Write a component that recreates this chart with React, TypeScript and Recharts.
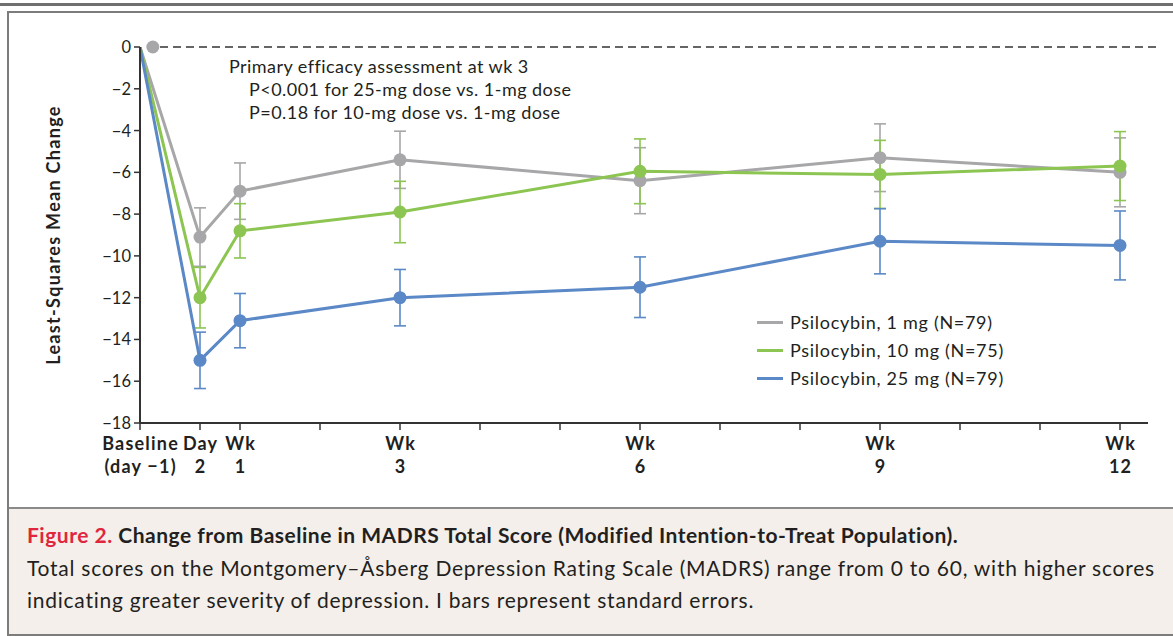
import React from "react";
import {
  ComposedChart,
  Line,
  XAxis,
  YAxis,
  ErrorBar,
  ReferenceLine,
  ReferenceDot,
} from "recharts";

// ---- data ----
const timepointPositions = [-0.25, 0.5, 1, 3, 6, 9, 12];
const timepointLines: string[][] = [
  ["Baseline", "(day \u22121)"],
  ["Day", "2"],
  ["Wk", "1"],
  ["Wk", "3"],
  ["Wk", "6"],
  ["Wk", "9"],
  ["Wk", "12"],
];
const weekTicks = [-0.25, 0.5, 1, 2, 3, 4, 5, 6, 7, 8, 9, 10, 11, 12];
const yTicks = [0, -2, -4, -6, -8, -10, -12, -14, -16, -18];

const mean1mg = [0, -9.1, -6.9, -5.4, -6.4, -5.3, -6.0];
const se1mg = [null, 1.4, 1.35, 1.37, 1.58, 1.62, 1.65];
const mean10mg = [0, -12.0, -8.8, -7.9, -5.95, -6.1, -5.7];
const se10mg = [null, 1.45, 1.3, 1.47, 1.55, 1.63, 1.65];
const mean25mg = [0, -15.0, -13.1, -12.0, -11.5, -9.3, -9.5];
const se25mg = [null, 1.35, 1.3, 1.35, 1.45, 1.56, 1.65];

const seriesNames = [
  "Psilocybin, 1 mg (N=79)",
  "Psilocybin, 10 mg (N=75)",
  "Psilocybin, 25 mg (N=79)",
];
const seriesColors = ["#a7a7a9", "#8cc551", "#5b88c6"];

const annotationLines = [
  "Primary efficacy assessment at wk 3",
  "P<0.001 for 25-mg dose vs. 1-mg dose",
  "P=0.18 for 10-mg dose vs. 1-mg dose",
];

const buildSeries = (means: number[], ses: (number | null)[]) =>
  timepointPositions.map((x, i) => ({ x, y: means[i], err: ses[i] }));

const series = [
  buildSeries(mean1mg, se1mg),
  buildSeries(mean10mg, se10mg),
  buildSeries(mean25mg, se25mg),
];

const FONT = "Lato, 'Open Sans', sans-serif";
const TEXT = "#231f20";

const XTick = (props: any) => {
  const { x, y, payload } = props;
  const idx = timepointPositions.indexOf(payload.value);
  if (idx < 0) return <g />;
  const lines = timepointLines[idx];
  const st = { letterSpacing: "1.2px" };
  return (
    <g>
      <text x={x + 0.6} y={y + 18} textAnchor="middle" fontFamily={FONT} fontWeight={700} fontSize={18} fill={TEXT} style={st}>
        {lines[0]}
      </text>
      <text x={x + 0.6} y={y + 41} textAnchor="middle" fontFamily={FONT} fontWeight={700} fontSize={18} fill={TEXT} style={st}>
        {lines[1]}
      </text>
    </g>
  );
};

const YTick = (props: any) => {
  const { x, y, payload } = props;
  const label = String(payload.value).replace("-", "\u2212");
  return (
    <text x={x} y={y + 6} textAnchor="end" fontFamily={FONT} fontSize={16.5} fill={TEXT}>
      {label}
    </text>
  );
};

const makeDot = (color: string) => (props: any) => {
  const { cx, cy, payload, index } = props;
  if (payload.x === timepointPositions[0]) return <g key={`d${index}`} />;
  return <circle key={`d${index}`} cx={cx} cy={cy} r={6.5} fill={color} stroke="none" />;
};

export default function App() {
  return (
    <div
      style={{
        position: "absolute",
        left: 0,
        top: 0,
        width: 1173,
        height: 636,
        background: "#fff",
        overflow: "hidden",
        fontFamily: FONT,
      }}
    >
      <div style={{ position: "absolute", left: 0, top: 3, width: 1173, height: 3, background: "#6f6f6f" }} />
      <div
        style={{
          position: "absolute",
          left: 7,
          top: 11,
          width: 1180,
          height: 621,
          border: "2px solid #7c7c7c",
          boxSizing: "content-box",
        }}
      />
      <div
        style={{
          position: "absolute",
          left: 9,
          top: 507,
          width: 1170,
          height: 125,
          borderTop: "2px solid #8a8a8a",
          background: "#f4efeb",
        }}
      />
      <div style={{ position: "absolute", left: 0, top: 0 }}>
        <ComposedChart
          width={1173}
          height={500}
          margin={{ top: 47, right: 25, bottom: 0, left: 80 }}
        >
          <XAxis
            type="number"
            dataKey="x"
            domain={[-0.25, 12.35]}
            ticks={weekTicks}
            allowDataOverflow
            tick={<XTick />}
            tickSize={7}
            tickMargin={2}
            axisLine={{ stroke: "#333", strokeWidth: 2 }}
            tickLine={{ stroke: "#333", strokeWidth: 1.5 }}
            height={77}
            interval={0}
          />
          <YAxis
            type="number"
            dataKey="y"
            domain={[-18, 0]}
            ticks={yTicks}
            allowDataOverflow
            width={60}
            tick={<YTick />}
            tickSize={6}
            tickMargin={3}
            axisLine={{ stroke: "#333", strokeWidth: 2 }}
            tickLine={{ stroke: "#333", strokeWidth: 1.5 }}
            interval={0}
            label={() => (
              <text
                x={60}
                y={235}
                transform="rotate(-90 60 235)"
                textAnchor="middle"
                fontFamily={FONT}
                fontWeight={700}
                fontSize={18}
                fill={TEXT}
                style={{ letterSpacing: "1.3px" }}
              >
                Least-Squares Mean Change
              </text>
            )}
          />
          <ReferenceLine
            segment={[
              { x: 0, y: 0 },
              { x: 12.5, y: 0 },
            ]}
            ifOverflow="visible"
            stroke="#333"
            strokeWidth={1.5}
            strokeDasharray="8 5"
          />
          {series.map((data, i) => (
            <Line
              key={seriesNames[i]}
              data={data}
              dataKey="y"
              name={seriesNames[i]}
              type="linear"
              stroke={seriesColors[i]}
              strokeWidth={3}
              dot={makeDot(seriesColors[i])}
              activeDot={false}
              isAnimationActive={false}
            >
              <ErrorBar dataKey="err" direction="y" width={6} stroke={seriesColors[i]} strokeWidth={1.6} />
            </Line>
          ))}
          <ReferenceDot x={-0.09} y={0} r={6.5} fill={seriesColors[0]} stroke="none" ifOverflow="visible" />
        </ComposedChart>
      </div>

      {/* annotation */}
      <div style={{ position: "absolute", left: 229, top: 55, fontSize: 18, letterSpacing: "0.45px", color: TEXT, lineHeight: "23px" }}>
        <div>{annotationLines[0]}</div>
        <div style={{ paddingLeft: 20 }}>{annotationLines[1]}</div>
        <div style={{ paddingLeft: 20 }}>{annotationLines[2]}</div>
      </div>

      {/* legend */}
      <div style={{ position: "absolute", left: 757, top: 308, fontSize: 18, letterSpacing: "0.7px", color: TEXT, lineHeight: "28px" }}>
        {seriesNames.map((n, i) => (
          <div key={n} style={{ display: "flex", alignItems: "center" }}>
            <span style={{ display: "inline-block", width: 26, height: 3, background: seriesColors[i], marginRight: 7 }} />
            <span>{n}</span>
          </div>
        ))}
      </div>

      {/* caption */}
      <div style={{ position: "absolute", left: 27, top: 519, fontSize: 21, color: TEXT, lineHeight: "32.5px" }}>
        <div style={{ fontWeight: 700, letterSpacing: "0.5px" }}>
          <span style={{ color: "#e0263f" }}>Figure 2.</span> Change from Baseline in MADRS Total Score (Modified
          Intention-to-Treat Population).
        </div>
        <div style={{ letterSpacing: "0.75px", whiteSpace: "nowrap" }}>
          Total scores on the Montgomery–Åsberg Depression Rating Scale (MADRS) range from 0 to 60, with higher scores
        </div>
        <div style={{ letterSpacing: "0.75px" }}>indicating greater severity of depression. I bars represent standard errors.</div>
      </div>
    </div>
  );
}
